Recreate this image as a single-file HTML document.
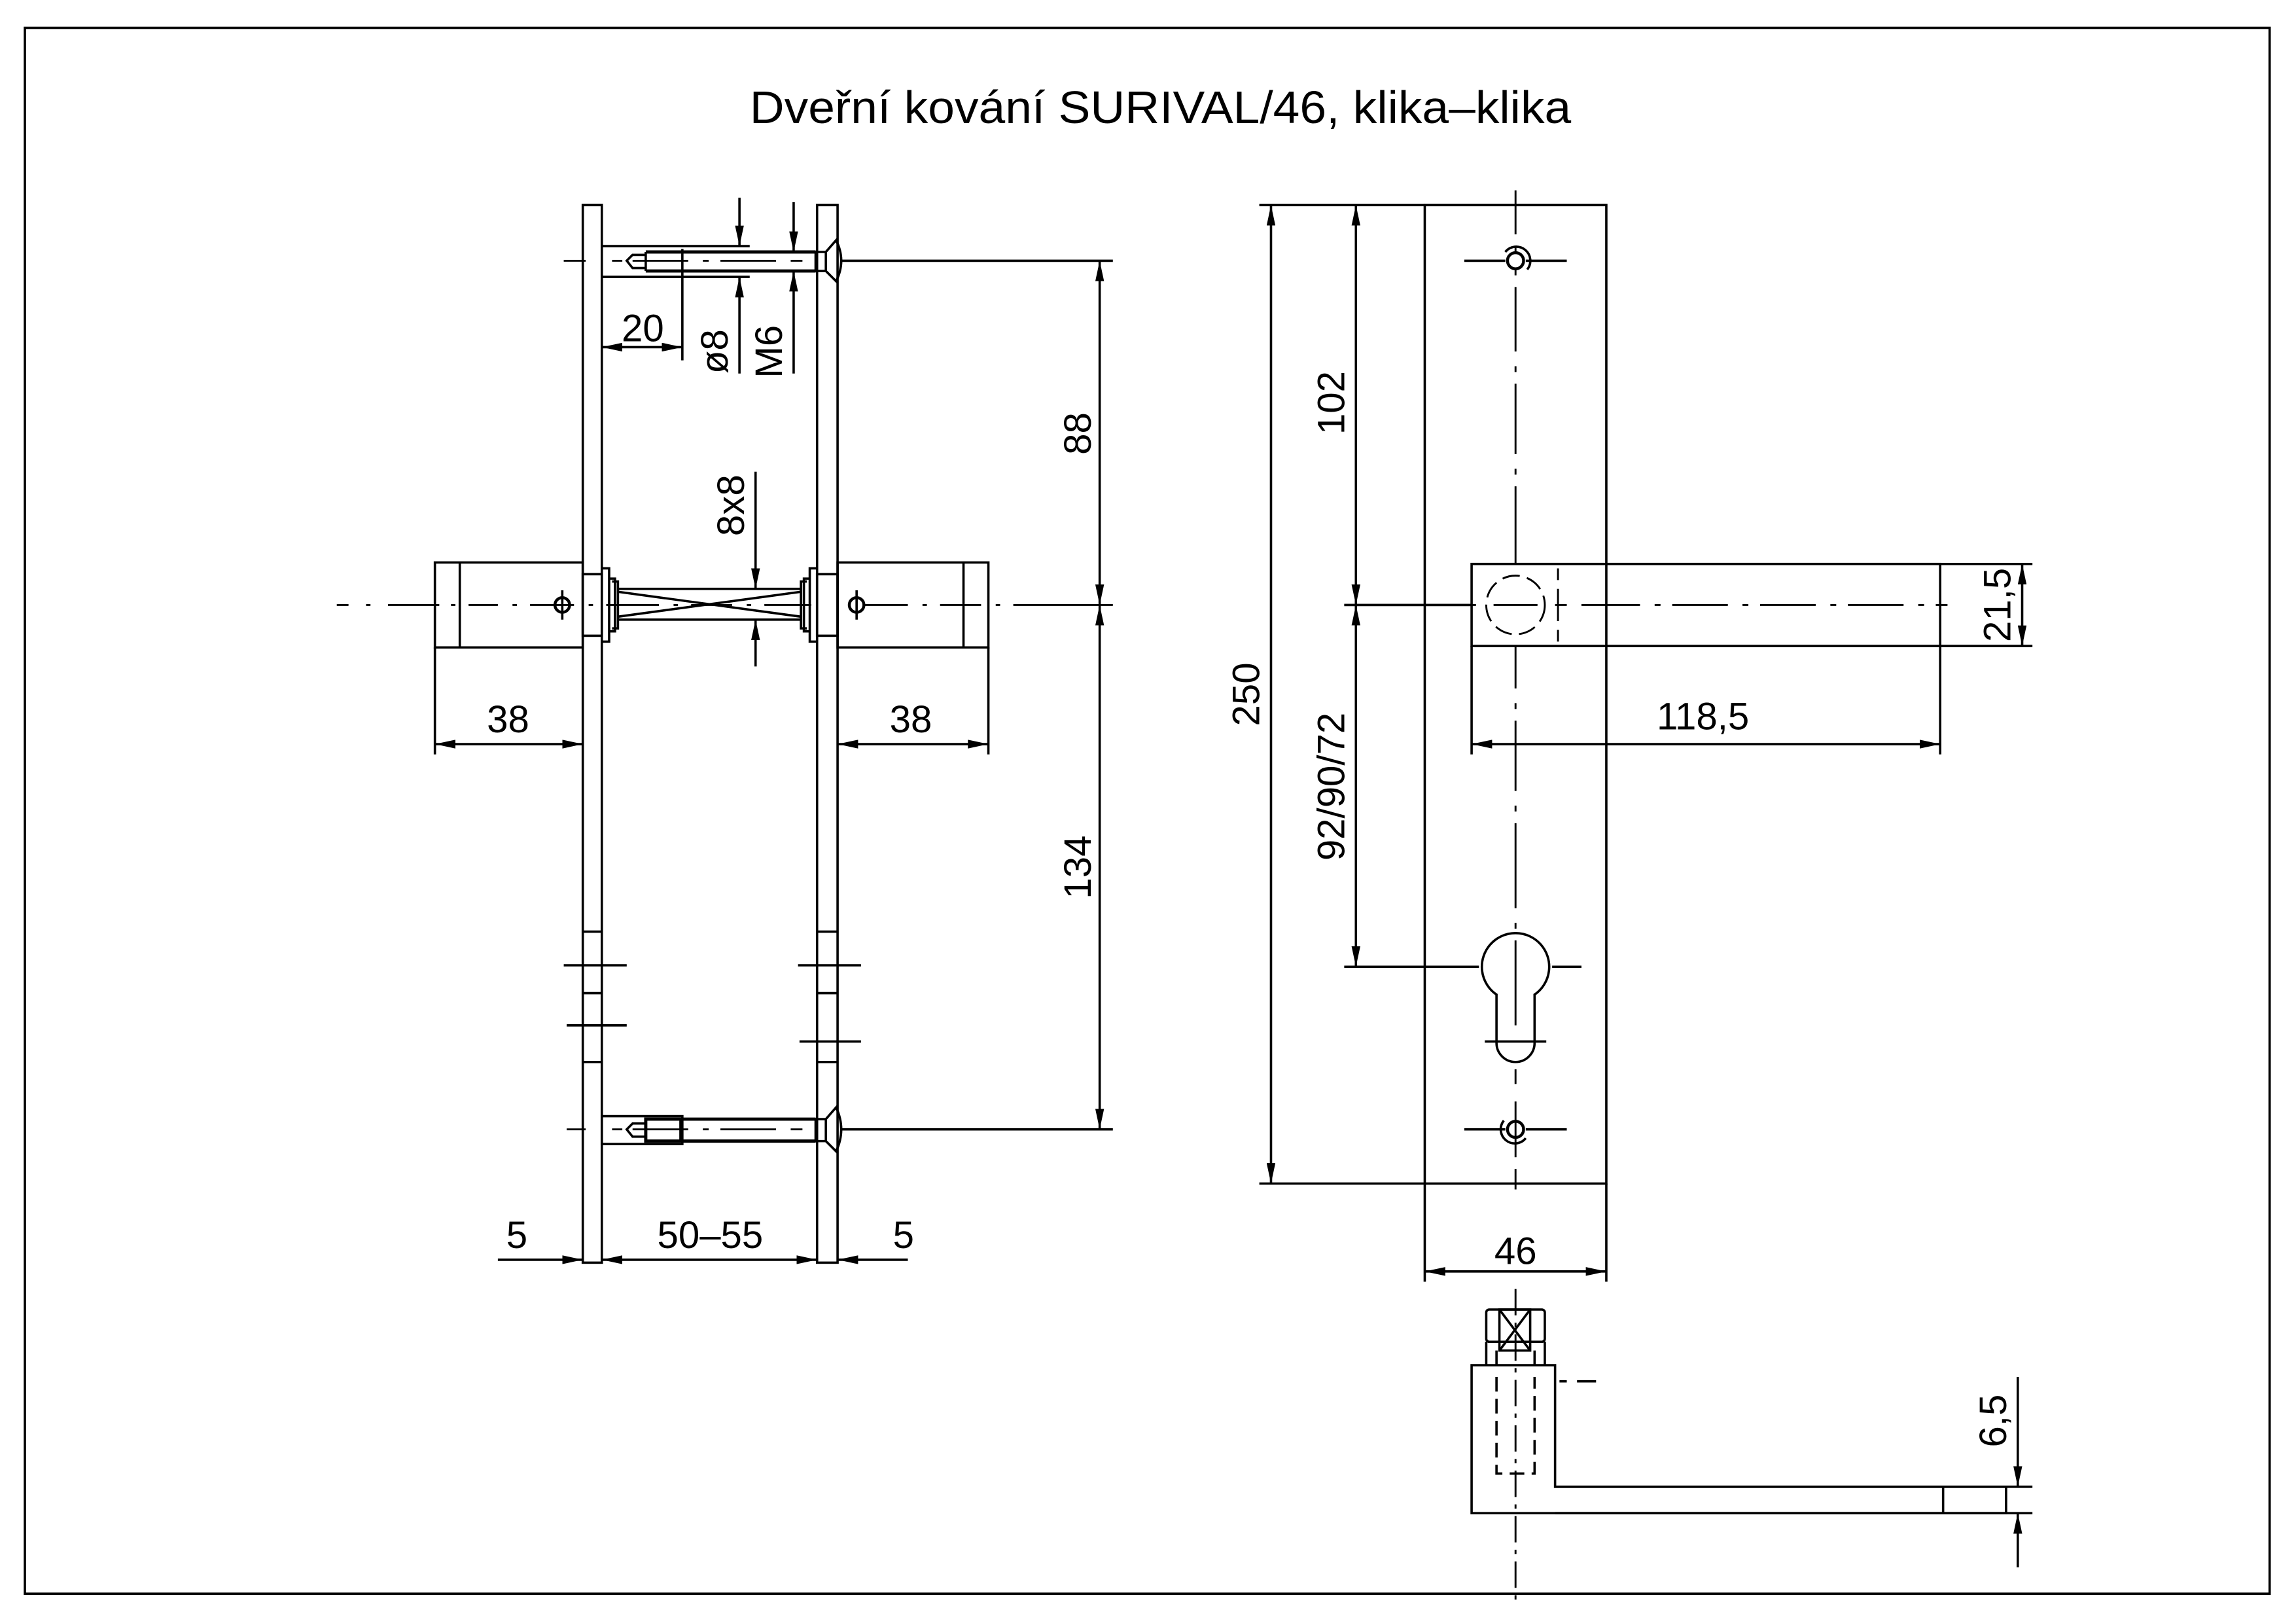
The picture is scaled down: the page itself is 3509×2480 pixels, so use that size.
<!DOCTYPE html>
<html><head><meta charset="utf-8"><style>
html,body{margin:0;padding:0;background:#fff;}
svg{display:block;}
text{font-family:"Liberation Sans Narrow","Liberation Sans",sans-serif;fill:#000;}
</style></head><body>
<svg width="3509" height="2480" viewBox="0 0 1568 1108" preserveAspectRatio="none" xmlns="http://www.w3.org/2000/svg">
<defs>
<marker id="a" viewBox="0 0 14 6" refX="14" refY="3" markerWidth="14" markerHeight="6" markerUnits="userSpaceOnUse" orient="auto-start-reverse"><path d="M0,0 L14,3 L0,6 Z" fill="#000"/></marker>
</defs>
<rect x="0" y="0" width="1568" height="1108" fill="#fff"/>
<g fill="none" stroke="#000" stroke-width="1.6">
<rect x="17" y="19" width="1533" height="1069"/>

<!-- LEFT VIEW -->
<rect x="398" y="140" width="13" height="722"/>
<rect x="558" y="140" width="14" height="722"/>
<path d="M398,636H411M398,678H411M398,725H411M558,636H572M558,678H572M558,725H572"/>
<path d="M385,659H428M387,700H428M545,659H588M546,711H588"/>

<!-- top screw -->
<path d="M411,168H512M411,189H512"/>
<path d="M441,172H557M441,185H557" stroke-width="2.2"/>
<path d="M441,172V185M557,172V185"/>
<path d="M441,174H432L428,178L432,183H441"/>
<path d="M564,172L571,164Q578,178 571,192L564,185Z"/>
<path d="M557,172H564M557,185H564"/>
<path d="M385,178H400M418,178H425M432,178H470M480,178H484M492,178H530M540,178H548" stroke-width="1.3"/>
<path d="M505,135V168" marker-end="url(#a)"/>
<path d="M505,189V255" marker-start="url(#a)"/>
<path d="M542,138V172" marker-end="url(#a)"/>
<path d="M542,185V255" marker-start="url(#a)"/>
<path d="M466,170V246"/>
<path d="M411,237H466" marker-start="url(#a)" marker-end="url(#a)"/>

<!-- handles -->
<rect x="297" y="384" width="101" height="58"/>
<path d="M314,384V442"/>
<rect x="572" y="384" width="103" height="58"/>
<path d="M658,384V442"/>
<rect x="398" y="392" width="13" height="42"/>
<rect x="558" y="392" width="14" height="42"/>
<path d="M411,388H416V438H411M416,395H420V431H416M418,397H422V429H418"/>
<path d="M558,388H553V438H558M553,395H549V431H553M551,397H547V429H551"/>
<path d="M422,402H547M422,423H547M422,404L547,421M422,421L547,404"/>
<circle cx="384" cy="413" r="5" stroke-width="2"/>
<path d="M384,403V423"/>
<circle cx="585" cy="413" r="5" stroke-width="2"/>
<path d="M585,403V423"/>
<path d="M230,413H238M250,413H253M265,413H300M308,413H311M320,413H340M350,413H353M362,413H392M402,413H405M414,413H450M460,413H463M472,413H500M510,413H513M522,413H554M590,413H620M630,413H633M642,413H670M680,413H683M692,413H760" stroke-width="1.3"/>
<path d="M516,322V402" marker-end="url(#a)"/>
<path d="M516,423V455" marker-start="url(#a)"/>
<path d="M575,178H760M575,771H760"/>
<path d="M751,178V413" marker-start="url(#a)" marker-end="url(#a)"/>
<path d="M751,413V771" marker-start="url(#a)" marker-end="url(#a)"/>
<path d="M297,442V515M675,442V515"/>
<path d="M297,508H398" marker-start="url(#a)" marker-end="url(#a)"/>
<path d="M572,508H675" marker-start="url(#a)" marker-end="url(#a)"/>

<!-- bottom screw -->
<rect x="411" y="762" width="55" height="19"/>
<rect x="441" y="764" width="24" height="15" stroke-width="2.2"/>
<path d="M465,764H557M465,779H557" stroke-width="2.2"/>
<path d="M557,764V779M557,764H564M557,779H564"/>
<path d="M441,767H432L428,771L432,776H441"/>
<path d="M564,764L571,756Q578,771 571,786L564,779Z"/>
<path d="M387,771H400M418,771H425M432,771H470M480,771H484M492,771H530M540,771H548" stroke-width="1.3"/>

<path d="M340,860H398" marker-end="url(#a)"/>
<path d="M411,860H558" marker-start="url(#a)" marker-end="url(#a)"/>
<path d="M620,860H572" marker-end="url(#a)"/>

<!-- RIGHT VIEW -->
<rect x="973" y="140" width="124" height="668"/>
<path d="M860,140H973M860,808H973"/>
<path d="M868,140V808" marker-start="url(#a)" marker-end="url(#a)"/>
<path d="M926,140V413" marker-start="url(#a)" marker-end="url(#a)"/>
<path d="M926,413V660" marker-start="url(#a)" marker-end="url(#a)"/>
<path d="M918,413H1005M918,660H1010M1060,660H1080"/>
<path d="M1035,130V160M1035,168V172M1035,184V188M1035,196V240M1035,250V254M1035,262V310M1035,320V324M1035,332V385M1035,441V470M1035,480V484M1035,492V540M1035,550V554M1035,562V620M1035,630V634M1035,642V700M1035,730V740M1035,752V790M1035,798V812" stroke-width="1.3"/>
<path d="M1000,178H1028M1042,178H1070M1000,771H1028M1042,771H1070"/>
<circle cx="1035" cy="178" r="5.5" stroke-width="2"/>
<path d="M1028,172A9,9 0 0 1 1043,184" />
<circle cx="1035" cy="771" r="5.5" stroke-width="2"/>
<path d="M1042,777A9,9 0 0 1 1027,765"/>
<rect x="1005" y="385" width="320" height="56"/>
<path d="M1325,385H1388M1325,441H1388"/>
<path d="M1381,385V441" marker-start="url(#a)" marker-end="url(#a)"/>
<path d="M1064,388V396M1064,402V424M1064,430V438M1097,441V385" stroke-width="1.3"/>
<circle cx="1035" cy="413" r="20" stroke-dasharray="12 5" stroke-width="1.3"/>
<path d="M973,413H1008M1020,413H1050M1062,413H1070M1080,413H1120M1130,413H1134M1142,413H1180M1190,413H1194M1202,413H1240M1250,413H1254M1262,413H1300M1310,413H1314M1322,413H1330" stroke-width="1.3"/>
<path d="M1005,441V515M1325,441V515"/>
<path d="M1005,508H1325" marker-start="url(#a)" marker-end="url(#a)"/>
<!-- keyhole -->
<path d="M1022,679 A23,23 0 1 1 1048,679 V712 A13,13 0 0 1 1022,712 Z"/>
<path d="M1014,711H1056"/>
<path d="M973,808V875M1097,808V875"/>
<path d="M973,868H1097" marker-start="url(#a)" marker-end="url(#a)"/>

<!-- BOTTOM HANDLE -->
<path d="M1035,880V1095" stroke-dasharray="18 5 3 5" stroke-width="1.3"/>
<rect x="1015" y="894" width="40" height="22" rx="2"/>
<rect x="1024" y="894" width="21" height="28"/>
<path d="M1024,894L1045,922M1045,894L1024,922"/>
<path d="M1015,916V932M1055,916V932M1022,922V932M1048,922V932"/>
<path d="M1005,932H1062V1015H1370V1033H1005Z"/>
<path d="M1327,1015V1033"/>
<path d="M1065,943H1070M1077,943H1090"/>
<path d="M1022,940V1006H1048V940" stroke-dasharray="10 5"/>
<path d="M1062,1015H1388M1062,1033H1388"/>
<path d="M1378,940V1015" marker-end="url(#a)"/>
<path d="M1378,1033V1070" marker-start="url(#a)"/>
</g>

<g font-size="26">
<text x="512" y="84" font-size="31" textLength="561" lengthAdjust="spacingAndGlyphs">Dveřní kování SURIVAL/46, klika–klika</text>
<text x="439" y="233" text-anchor="middle">20</text>
<text transform="translate(497,240) rotate(-90)" text-anchor="middle">ø8</text>
<text transform="translate(534,240) rotate(-90)" text-anchor="middle">M6</text>
<text transform="translate(508,345) rotate(-90)" text-anchor="middle">8x8</text>
<text transform="translate(745,296) rotate(-90)" text-anchor="middle">88</text>
<text transform="translate(745,592) rotate(-90)" text-anchor="middle">134</text>
<text x="347" y="500" text-anchor="middle">38</text>
<text x="622" y="500" text-anchor="middle">38</text>
<text x="353" y="852" text-anchor="middle">5</text>
<text x="485" y="852" text-anchor="middle">50–55</text>
<text x="617" y="852" text-anchor="middle">5</text>
<text transform="translate(860,474) rotate(-90)" text-anchor="middle">250</text>
<text transform="translate(918,275) rotate(-90)" text-anchor="middle">102</text>
<text transform="translate(918,537) rotate(-90)" text-anchor="middle">92/90/72</text>
<text transform="translate(1373,413) rotate(-90)" text-anchor="middle">21,5</text>
<text x="1163" y="498" text-anchor="middle">118,5</text>
<text x="1035" y="863" text-anchor="middle">46</text>
<text transform="translate(1370,970) rotate(-90)" text-anchor="middle">6,5</text>
</g>
</svg>
</body></html>
